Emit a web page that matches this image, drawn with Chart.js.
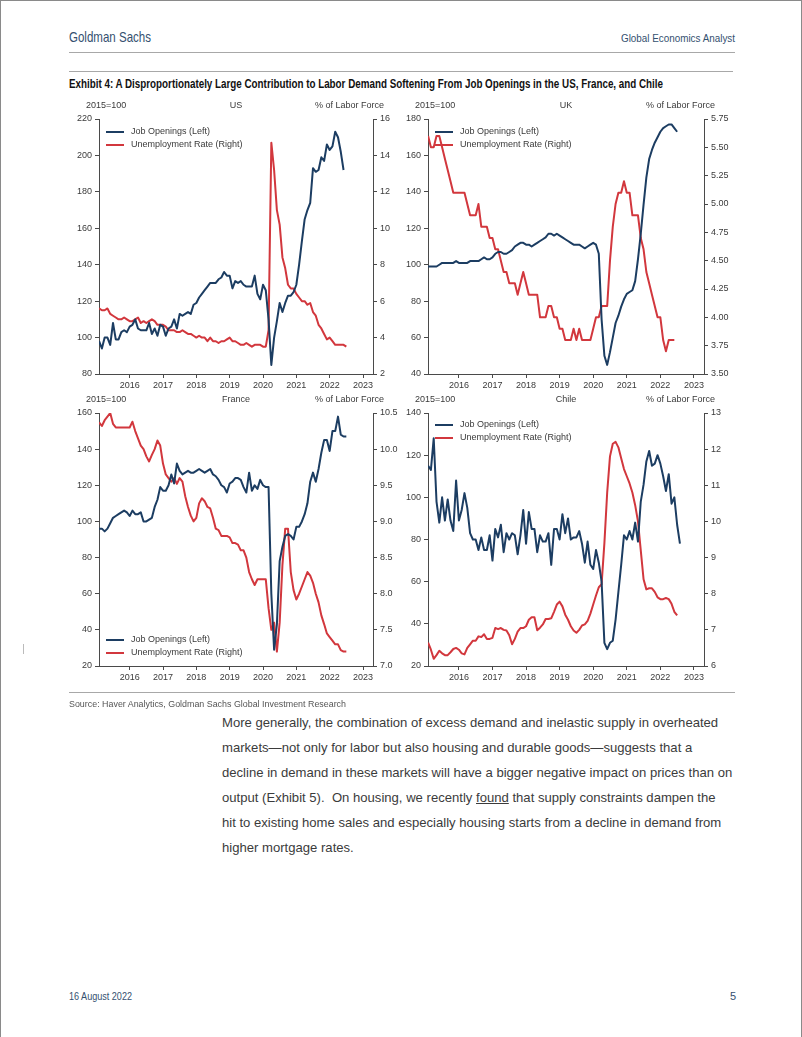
<!DOCTYPE html>
<html>
<head>
<meta charset="utf-8">
<script src="https://cdn.jsdelivr.net/npm/chart.js@4.4.0/dist/chart.umd.min.js"></script>
<style>
  body { margin: 0; background: #fff; }
  #page { position: relative; width: 802px; height: 1037px; overflow: hidden; background: #fff;
    font-family: "Liberation Sans", Arial, sans-serif; box-sizing: border-box; border: 1px solid #8a8a8a; border-bottom: none; }
  .abs { position: absolute; white-space: nowrap; }
  .narrow { font-family: "Liberation Sans", Arial, sans-serif; transform-origin: left center; }
  .rule { position: absolute; height: 0; border-top: 1px solid #a8a8a8; }
  .para { left: 221px; font-size: 13.1px; color: #3b3b3b; line-height: 25px; }
  canvas { position: absolute; }
</style>
</head>
<body>
<div id="page">
  <div class="abs narrow" data-w="82" style="left:68px;top:27px;font-size:15px;color:#34506f;">Goldman Sachs</div>
  <div class="abs narrow" data-w="114" style="left:620px;top:31px;font-size:11.5px;color:#34506f;">Global Economics Analyst</div>
  <div class="rule" style="left:68px;width:666px;top:51px;"></div>
  <div class="rule" style="left:68px;width:664px;top:70px;"></div>
  <div class="abs narrow" data-w="594" style="left:68px;top:76px;font-size:12.5px;font-weight:bold;color:#111;">Exhibit 4: A Disproportionately Large Contribution to Labor Demand Softening From Job Openings in the US, France, and Chile</div>

  <canvas id="us" width="344" height="305" style="left:58px;top:90px;"></canvas>
  <canvas id="uk" width="346" height="305" style="left:387px;top:90px;"></canvas>
  <canvas id="fr" width="344" height="303" style="left:58px;top:384px;"></canvas>
  <canvas id="cl" width="346" height="303" style="left:387px;top:384px;"></canvas>

  <div class="abs" style="left:22px;top:643px;width:1px;height:10px;background:#bbb;"></div>
  <div class="rule" style="left:68px;width:666px;top:691px;"></div>
  <div class="abs narrow" data-w="277" style="left:68px;top:698px;font-size:9px;color:#555;">Source: Haver Analytics, Goldman Sachs Global Investment Research</div>

  <div class="abs para" style="top:709px;">More generally, the combination of excess demand and inelastic supply in overheated</div>
  <div class="abs para" style="top:734px;">markets—not only for labor but also housing and durable goods—suggests that a</div>
  <div class="abs para" style="top:759px;">decline in demand in these markets will have a bigger negative impact on prices than on</div>
  <div class="abs para" style="top:784px;">output (Exhibit 5).&nbsp; On housing, we recently <u>found</u> that supply constraints dampen the</div>
  <div class="abs para" style="top:809px;">hit to existing home sales and especially housing starts from a decline in demand from</div>
  <div class="abs para" style="top:834px;">higher mortgage rates.</div>

  <div class="abs narrow" data-w="63" style="left:68px;top:989px;font-size:11px;color:#34506f;">16 August 2022</div>
  <div class="abs narrow" style="left:729px;top:989px;font-size:11px;color:#34506f;">5</div>
</div>

<script>
// squeeze the header texts to the condensed width of the original typeface
document.querySelectorAll('[data-w]').forEach((el) => {
  const w = el.getBoundingClientRect().width
  el.style.transform = `scaleX(${el.dataset.w / w})`
})

// monthly series, first point Feb 2015
const startYear = 2015 + 1 / 12
const yearTicks = [2016, 2017, 2018, 2019, 2020, 2021, 2022, 2023]
const seriesLabels = ['Job Openings (Left)', 'Unemployment Rate (Right)']

const usJobOpenings = [98, 94, 100, 100, 96, 108, 99, 99, 103, 104, 103, 106, 107, 110, 105, 104, 104, 104, 108, 102,
  105, 101, 107, 106, 101, 105, 106, 110, 105, 113, 112, 113, 114, 113, 118, 119, 122, 124, 126, 128,
  130, 130, 130, 132, 133, 136, 134, 134, 127, 131, 130, 131, 129, 128, 128, 128, 134, 124, 121, 129,
  126, 110, 85, 100, 109, 119, 114, 119, 123, 123, 125, 129, 140, 153, 165, 170, 174, 193, 191, 192,
  199, 197, 206, 203, 205, 213, 210, 202, 192]
const usUnemployment = [5.6, 5.5, 5.5, 5.6, 5.3, 5.2, 5.1, 5.0, 5.0, 5.1, 5.0,
  4.9, 4.9, 5.0, 5.1, 4.8, 4.9, 4.8, 4.9, 5.0, 4.9, 4.7, 4.7,
  4.7, 4.6, 4.4, 4.4, 4.4, 4.3, 4.3, 4.4, 4.3, 4.2, 4.2, 4.1,
  4.0, 4.1, 4.0, 4.0, 3.8, 4.0, 3.8, 3.8, 3.7, 3.8, 3.8, 3.9,
  4.0, 3.8, 3.8, 3.7, 3.6, 3.6, 3.7, 3.6, 3.5, 3.6, 3.6, 3.6,
  3.5, 3.5, 4.4, 14.7, 13.2, 11.0, 10.2, 8.4, 7.8, 6.9, 6.7, 6.7,
  6.4, 6.2, 6.0, 6.0, 5.8, 5.9, 5.4, 5.2, 4.7, 4.5, 4.2, 3.9,
  4.0, 3.8, 3.6, 3.6, 3.6, 3.6, 3.5]

const ukJobOpenings = [99, 99, 99, 99, 100, 101, 101, 101, 101, 101, 102, 101, 101, 101, 101, 102, 102, 102, 102, 103,
  104, 103, 103, 104, 106, 107, 107, 106, 106, 107, 108, 110, 111, 112, 112, 111, 111, 110, 111, 112,
  113, 114, 115, 117, 117, 116, 117, 116, 115, 114, 113, 112, 111, 111, 111, 110, 109, 110, 111, 112,
  111, 106, 70, 50, 45, 52, 60, 68, 72, 77, 81, 84, 85, 86, 91, 103, 117, 133, 148, 158,
  163, 167, 170, 173, 175, 176, 177, 177, 175, 173]
const ukUnemployment = [5.6, 5.5, 5.5, 5.6, 5.6, 5.5, 5.4, 5.3, 5.2, 5.1, 5.1, 5.1, 5.1, 5.1, 5.0, 4.9, 4.9, 4.9, 5.0, 4.8,
  4.8, 4.8, 4.7, 4.7, 4.6, 4.6, 4.5, 4.4, 4.4, 4.3, 4.3, 4.3, 4.2, 4.3, 4.4, 4.3, 4.2, 4.2, 4.2, 4.2,
  4.0, 4.0, 4.0, 4.1, 4.1, 4.0, 4.0, 3.9, 3.9, 3.8, 3.8, 3.8, 3.9, 3.8, 3.9, 3.8, 3.8, 3.8, 3.8, 3.9,
  4.0, 4.0, 4.1, 4.1, 4.1, 4.5, 4.8, 5.0, 5.1, 5.1, 5.2, 5.1, 5.1, 4.9, 4.9, 4.9, 4.7, 4.6, 4.4, 4.3,
  4.2, 4.1, 4.0, 4.0, 3.8, 3.7, 3.8, 3.8, 3.8]

const frJobOpenings = [96, 96, 94.5, 96, 99, 102, 103, 104, 105, 106, 105, 103, 106, 104, 104, 105, 100, 100, 101, 102,
  108, 112, 119, 117, 117, 120, 126, 121, 132, 128, 126, 127, 128, 127, 127, 128, 129, 128, 127, 128,
  129, 126, 125, 123, 120, 119, 116, 121, 122, 124, 124, 123, 119, 116, 127, 117, 120, 118, 123, 120,
  119, 119, 60, 29, 43, 78, 86, 92, 93, 92, 90, 97, 97, 100, 104, 110, 122, 127, 122, 129,
  138, 145, 145, 139, 150, 150, 158, 148, 147, 147]
const frUnemployment = [10.37, 10.32, 10.4, 10.45, 10.5, 10.35, 10.3, 10.3, 10.3, 10.3, 10.3, 10.3, 10.38, 10.25, 10.15, 10.05, 10.0, 9.9, 9.83, 9.92,
  10.0, 10.12, 10.05, 9.8, 9.65, 9.6, 9.55, 9.6, 9.52, 9.6, 9.55, 9.35, 9.2, 9.08, 9.0, 9.05, 9.25, 9.32, 9.28, 9.2,
  9.18, 9.05, 8.9, 8.88, 8.8, 8.8, 8.8, 8.78, 8.7, 8.7, 8.68, 8.6, 8.6, 8.5, 8.3, 8.2, 8.12, 8.2, 8.2, 8.2,
  8.2, 7.8, 7.5, 7.6, 7.2, 7.6, 8.4, 8.9, 8.9, 8.3, 8.05, 7.92, 8.0, 8.1, 8.2, 8.3, 8.25, 8.15, 8.0, 7.88,
  7.7, 7.58, 7.45, 7.4, 7.35, 7.3, 7.3, 7.22, 7.2, 7.2]

const clJobOpenings = [115, 113, 128, 98, 88, 100, 89, 99, 89, 84, 108, 89, 94, 102, 95, 83, 80, 80, 75, 81,
  75, 75, 82, 70, 85, 81, 87, 74, 83, 80, 83, 82, 73, 82, 94, 78, 93, 85, 85, 74,
  82, 79, 79, 83, 68, 85, 85, 80, 92, 83, 90, 80, 81, 81, 84, 78, 69, 79, 68, 66,
  75, 69, 60, 31, 28, 31, 32, 42, 55, 68, 82, 80, 84, 80, 88, 79, 98, 106, 117, 122,
  115, 116, 120, 116, 110, 103, 111, 97, 100, 87, 78]
const clUnemployment = [6.65, 6.45, 6.2, 6.3, 6.42, 6.35, 6.3, 6.3, 6.38, 6.47, 6.5, 6.45, 6.35, 6.32, 6.5, 6.6, 6.7, 6.7, 6.82, 6.8,
  6.88, 6.75, 6.75, 6.78, 7.05, 7.02, 7.05, 7.0, 6.98, 6.85, 6.6, 6.75, 6.95, 7.05, 7.05, 7.1, 7.28, 7.35, 7.35, 6.99,
  7.06, 7.15, 7.3, 7.3, 7.32, 7.5, 7.7, 7.78, 7.65, 7.42, 7.28, 7.1, 6.98, 6.92, 7.0, 7.12, 7.15, 7.25, 7.45, 7.7,
  7.95, 8.18, 8.26, 9.4, 10.8, 11.8, 12.15, 12.2, 12.05, 11.75, 11.45, 11.25, 11.05, 10.8, 10.45, 10.0, 9.2, 8.4, 8.12, 8.15,
  8.15, 8.05, 7.9, 7.85, 7.85, 7.88, 7.85, 7.72, 7.5, 7.4]

const blue = '#1c3d62'
const red = '#d2373d'
const axisColor = '#4a4a4a'
const textColor = '#3a3a3a'

const toPoints = (values) => values.map((v, i) => ({ x: startYear + i / 12, y: v }))

// unit labels above the plot and the legend inside it
const panelText = {
  id: 'panelText',
  afterDraw(chart, args, opts) {
    const { ctx, chartArea } = chart
    ctx.save()
    ctx.font = '9px "Liberation Sans", Arial, sans-serif'
    ctx.fillStyle = textColor
    ctx.textBaseline = 'middle'
    const ty = chartArea.top - 13
    ctx.textAlign = 'left'
    ctx.fillText('2015=100', chartArea.left - 13, ty)
    ctx.textAlign = 'center'
    ctx.fillText(opts.title, (chartArea.left + chartArea.right) / 2, ty)
    ctx.textAlign = 'right'
    ctx.fillText('% of Labor Force', chartArea.right + 11, ty)

    const rowY = opts.legendBottom
      ? [chartArea.bottom - 26, chartArea.bottom - 13]
      : [chartArea.top + opts.legendTop, chartArea.top + opts.legendTop + 13]
    ctx.textAlign = 'left'
    chart.data.datasets.forEach((ds, i) => {
      ctx.strokeStyle = ds.borderColor
      ctx.lineWidth = 2
      ctx.beginPath()
      ctx.moveTo(chartArea.left + 7, rowY[i])
      ctx.lineTo(chartArea.left + 25, rowY[i])
      ctx.stroke()
      ctx.fillText(ds.label, chartArea.left + 32, rowY[i])
    })
    ctx.restore()
  },
}

function makePanel(id, title, jobs, unemp, left, right, legend) {
  const tickFont = { family: '"Liberation Sans", Arial, sans-serif', size: 9 }
  const yAxis = (range, position, width) => ({
    type: 'linear',
    position,
    min: range.min,
    max: range.max,
    afterBuildTicks: (scale) => {
      const ticks = []
      for (let v = range.min; v <= range.max + 1e-9; v += range.step) ticks.push({ value: v })
      scale.ticks = ticks
    },
    afterFit: (scale) => { scale.width = width },
    ticks: {
      color: textColor,
      font: tickFont,
      padding: 3,
      callback: (v) => v.toFixed(range.dec),
    },
    grid: { drawOnChartArea: false, drawTicks: true, tickLength: 4, color: axisColor, lineWidth: 1 },
    border: { display: true, color: axisColor, width: 1 },
  })

  new Chart(document.getElementById(id), {
    type: 'line',
    data: {
      datasets: [
        { label: seriesLabels[0], data: toPoints(jobs), borderColor: blue, borderWidth: 2, yAxisID: 'yL' },
        { label: seriesLabels[1], data: toPoints(unemp), borderColor: red, borderWidth: 2, yAxisID: 'yR' },
      ],
    },
    options: {
      responsive: false,
      animation: false,
      devicePixelRatio: 1,
      layout: { padding: { top: 28, left: 0, right: 0, bottom: 0 } },
      elements: { point: { radius: 0 }, line: { tension: 0, borderJoinStyle: 'round' } },
      plugins: {
        legend: { display: false },
        tooltip: { enabled: false },
        panelText: { title, legendBottom: legend === 'bottom', legendTop: 13 - (legend === 'top2' ? 1 : 0) },
      },
      scales: {
        x: {
          type: 'linear',
          min: 2015.08,
          max: 2023.3,
          afterBuildTicks: (scale) => { scale.ticks = yearTicks.map((v) => ({ value: v })) },
          afterFit: (scale) => { scale.height = 22 },
          ticks: { color: textColor, font: tickFont, padding: 2, maxRotation: 0, callback: (v) => String(v) },
          grid: { drawOnChartArea: false, drawTicks: true, tickLength: 4, color: axisColor },
          border: { display: true, color: axisColor, width: 1 },
        },
        yL: yAxis(left, 'left', 40),
        yR: yAxis(right, 'right', 30),
      },
    },
    plugins: [panelText],
  })
}

makePanel('us', 'US', usJobOpenings, usUnemployment,
  { min: 80, max: 220, step: 20, dec: 0 }, { min: 2, max: 16, step: 2, dec: 0 }, 'top')
makePanel('uk', 'UK', ukJobOpenings, ukUnemployment,
  { min: 40, max: 180, step: 20, dec: 0 }, { min: 3.5, max: 5.75, step: 0.25, dec: 2 }, 'top')
makePanel('fr', 'France', frJobOpenings, frUnemployment,
  { min: 20, max: 160, step: 20, dec: 0 }, { min: 7, max: 10.5, step: 0.5, dec: 1 }, 'bottom')
makePanel('cl', 'Chile', clJobOpenings, clUnemployment,
  { min: 20, max: 140, step: 20, dec: 0 }, { min: 6, max: 13, step: 1, dec: 0 }, 'top2')
</script>
</body>
</html>
